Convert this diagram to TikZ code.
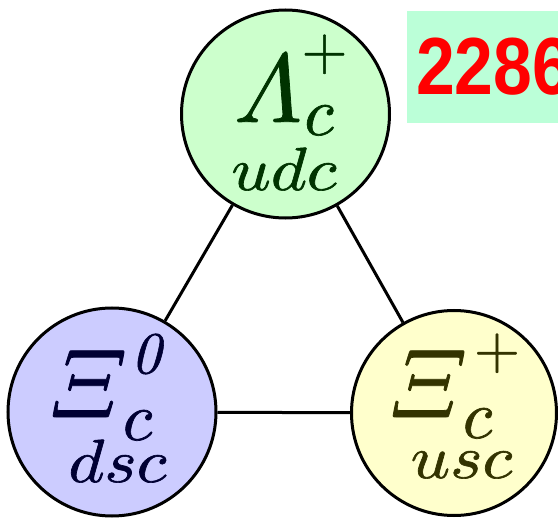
\documentclass[tikz,border=0pt]{standalone}
\usepackage{fontspec}
\usepackage{amsmath}
\newfontfamily\labelfont{Liberation Sans}
\definecolor{topfill}{RGB}{204,255,204}
\definecolor{leftfill}{RGB}{204,204,255}
\definecolor{rightfill}{RGB}{255,255,204}
\definecolor{boxfill}{RGB}{187,255,216}
\definecolor{toptext}{RGB}{0,51,0}
\definecolor{lefttext}{RGB}{0,0,51}
\definecolor{righttext}{RGB}{51,51,0}
\definecolor{numred}{RGB}{255,0,0}
\newcommand{\heavy}[2]{\special{pdf:literal direct 2 Tr #1 w}#2\special{pdf:literal direct 0 Tr}}
\begin{document}
\begin{tikzpicture}[x=1pt,y=-1pt,
  particle/.style={circle,draw=black,line width=3pt,inner sep=0pt,minimum size=208pt},
  link/.style={draw=black,line width=3pt},
  txt/.style={inner sep=0pt,anchor=base,font=\fontsize{10}{10}\selectfont},
  bigsym/.style={txt,scale=9.8},
  subsym/.style={txt,scale=6.8},
  supsym/.style={txt,scale=5.9},
  quarks/.style={txt,xscale=6.9,yscale=6.1}]
\useasboundingbox (0,0) rectangle (558,519);
\clip (0,0) rectangle (558,519);
\node[particle,fill=topfill] (lam) at (285.5,114) {};
\node[particle,fill=leftfill] (xi0) at (112,412) {};
\node[particle,fill=rightfill,minimum size=205pt] (xip) at (454,413) {};
\draw[link] (lam) -- (xi0);
\draw[link] (lam) -- (xip);
\draw[link] (xi0) -- (xip);
% top
\node[bigsym,text=toptext] (lamsym) at (268,122) {\heavy{0.08}{$\varLambda$}};
\node[subsym,text=toptext] (lamsub) at (319,135) {\heavy{0.1}{$c$}};
\node[supsym,text=toptext] (lamsup) at (324.5,69) {\heavy{0.1}{$+$}};
\node[quarks,text=toptext] (lamq) at (284,190) {\heavy{0.1}{$udc$}};
% left
\node[bigsym,text=lefttext] (xi0sym) at (88,417) {\heavy{0.08}{$\varXi$}};
\node[subsym,text=lefttext] (xi0sub) at (137.5,440) {\heavy{0.1}{$c$}};
\node[supsym,text=lefttext] (xi0sup) at (146,373) {\heavy{0.1}{$\mathit{0}$}};
\node[quarks,text=lefttext] (xi0q) at (117.5,482) {\heavy{0.1}{$dsc$}};
% right
\node[bigsym,text=righttext] (xipsym) at (428,417) {\heavy{0.08}{$\varXi$}};
\node[subsym,text=righttext] (xipsub) at (477.5,438) {\heavy{0.1}{$c$}};
\node[supsym,text=righttext] (xipsup) at (497,368) {\heavy{0.1}{$+$}};
\node[quarks,text=righttext] (xipq) at (461.5,478) {\heavy{0.1}{$usc$}};
% label
\node[fill=boxfill,inner sep=0pt,minimum width=160pt,minimum height=112pt,anchor=north west] (box) at (407,11) {};
\node[inner sep=0pt,anchor=base west,text=numred,xscale=0.86,font=\labelfont\bfseries\fontsize{81}{81}\selectfont] (num) at (416,95) {2286};
\end{tikzpicture}
\end{document}
